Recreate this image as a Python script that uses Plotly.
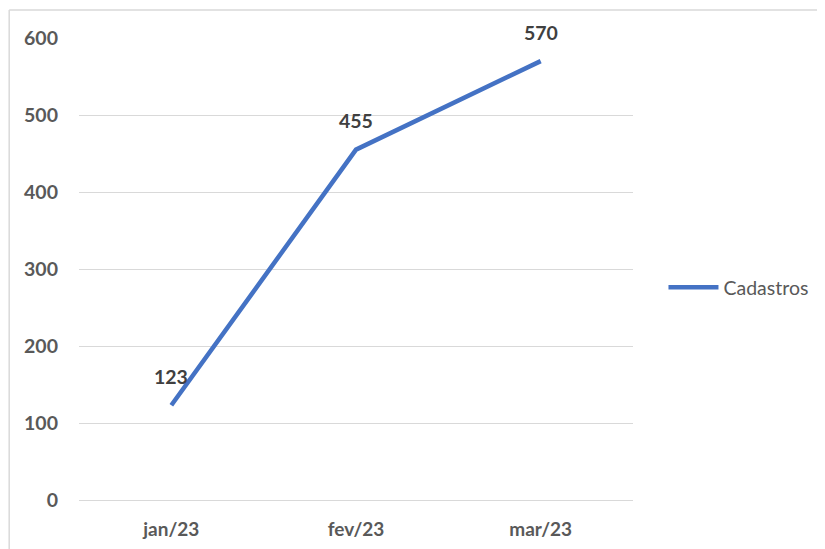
import plotly.graph_objects as go

months = ["jan/23", "fev/23", "mar/23"]
cadastros = [123, 455, 570]
y_ticks = [0, 100, 200, 300, 400, 500, 600]

FONT = "Lato"
LINE_COLOR = "#4472C4"
GRID = "#D9D9D9"

fig = go.Figure()
fig.add_trace(go.Scatter(
    x=months, y=cadastros, mode="lines", name="Cadastros",
    line=dict(color=LINE_COLOR, width=4.5),
))

for m, v in zip(months, cadastros):
    fig.add_annotation(x=m, y=v, text=f"<b>{v}</b>", showarrow=False,
                       yshift=29, font=dict(family=FONT, size=19.5, color="#404040"))

# chart frame (outer border, top and left edges visible as in reference)
fig.add_shape(type="line", xref="paper", yref="paper",
              x0=-0.126, x1=1.5, y0=1.0606, y1=1.0606,
              line=dict(color="#D9D9D9", width=1.5), layer="below")
fig.add_shape(type="line", xref="paper", yref="paper",
              x0=-0.126, x1=-0.126, y0=-0.3, y1=1.0606,
              line=dict(color="#D9D9D9", width=1.5), layer="below")

fig.update_layout(
    width=825, height=549,
    margin=dict(l=71, r=200, t=30, b=57),
    paper_bgcolor="white", plot_bgcolor="white",
    font=dict(family=FONT, color="#595959"),
    showlegend=True,
    legend=dict(x=1.055, y=0.46, xanchor="left", yanchor="middle",
                font=dict(family=FONT, size=19.5, color="#595959"),
                itemwidth=50, bgcolor="rgba(0,0,0,0)"),
    xaxis=dict(type="category", range=[-0.5, 2.5], showgrid=False,
               showline=False, ticks="", ticklabelstandoff=16,
               tickfont=dict(family=FONT, size=19, color="#595959", weight="bold")),
    yaxis=dict(range=[0, 600], tickvals=y_ticks, showgrid=True, gridcolor=GRID,
               gridwidth=1, zeroline=True, zerolinecolor=GRID, zerolinewidth=1,
               showline=False, ticks="", ticklabelstandoff=20,
               tickfont=dict(family=FONT, size=19.5, color="#595959", weight="bold")),
)

fig.write_html("out.html")
